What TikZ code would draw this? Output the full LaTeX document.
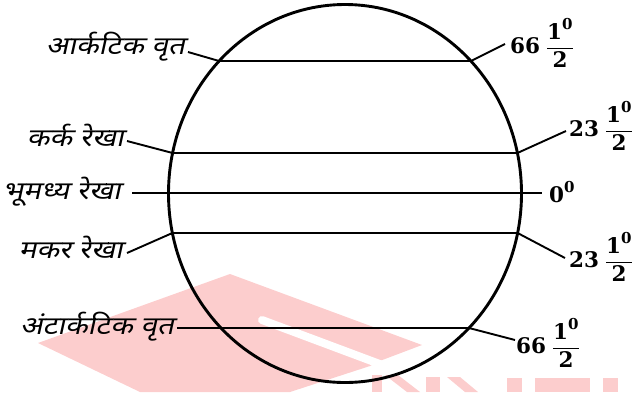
\documentclass[tikz,border=0pt]{standalone}
\usepackage{amsmath}
\usepackage{fontspec}
\newfontfamily\hindi[Script=Devanagari,FakeStretch=1.18,FakeSlant=0.22]{Noto Sans}
\newfontfamily\numfont{DejaVu Serif}
\newcommand\nb[1]{\text{\numfont\bfseries #1}}
\definecolor{wm}{RGB}{252,205,205}
\begin{document}
\begin{tikzpicture}[x=1pt,y=-1pt,
  globe/.style={line width=2.9pt},
  guide/.style={line width=2.1pt},
  lead/.style={line width=1.9pt},
  hlabel/.style={font=\hindi\fontsize{25}{28}\selectfont, inner sep=0pt},
  num/.style={font=\fontsize{21.5}{25}\selectfont, inner sep=0pt}]
\useasboundingbox (0,0) rectangle (638,392);
% watermark
\fill[wm] (38,343) -- (230,274) -- (422,345) -- (377,362) -- (370,366) -- (290,392) -- (140,392) -- cycle;
\draw[white, line width=8pt, line cap=round] (262,320) -- (385,366);
\fill[wm] (372,375) rectangle (382,392);
\fill[wm] (385,375) -- (398,375) -- (420,392) -- (407,392) -- cycle;
\fill[wm] (426,377) rectangle (440,392);
\fill[wm] (447,377) -- (460,377) -- (478,392) -- (465,392) -- cycle;
\fill[wm] (507,378) rectangle (522,392);
\fill[wm] (535,378) rectangle (590,392);
\fill[wm] (603,378) rectangle (618,392);
% globe
\draw[globe] (345,193.5) ellipse [x radius=176.5, y radius=189];
% intersection coordinates
\coordinate (arL) at (219.1,61);  \coordinate (arR) at (470.9,61);
\coordinate (caL) at (172.6,153); \coordinate (caR) at (517.4,153);
\coordinate (eqL) at (132,193);   \coordinate (eqR) at (542,193);
\coordinate (cpL) at (172.4,233); \coordinate (cpR) at (517.6,233);
\coordinate (anL) at (177,328);   \coordinate (anR) at (469,328);
% free leader ends
\coordinate (arLe) at (188,52);  \coordinate (arRe) at (505,44);
\coordinate (caLe) at (127,141); \coordinate (caRe) at (566,131);
\coordinate (cpLe) at (127,253); \coordinate (cpRe) at (565,258);
\coordinate (anRe) at (515,340);
% parallels
\draw[guide] (arL) -- (arR);
\draw[guide] (caL) -- (caR);
\draw[guide] (eqL) -- (eqR);
\draw[guide] (cpL) -- (cpR);
\draw[guide] (anL) -- (anR);
% leaders
\draw[lead] (arLe) -- (arL);
\draw[lead] (arR) -- (arRe);
\draw[lead] (caLe) -- (caL);
\draw[lead] (caR) -- (caRe);
\draw[lead] (cpLe) -- (cpL);
\draw[lead] (cpR) -- (cpRe);
\draw[lead] (anR) -- (anRe);
% left labels
\node[hlabel, anchor=base east] (tArc) at (185,54) {आर्कटिक वृत};
\node[hlabel, anchor=base east] (tCan) at (124,146) {कर्क रेखा};
\node[hlabel, anchor=base east] (tEq) at (121,199) {भूमध्य रेखा};
\node[hlabel, anchor=base east] (tCap) at (123,258) {मकर रेखा};
\node[hlabel, anchor=base east] (tAnt) at (174,334) {अंटार्कटिक वृत};
% right labels
\node[num, anchor=west] (nArc) at (510,43) {$\nb{66}\;\dfrac{\nb{1}^{\nb{0}}}{\nb{2}}$};
\node[num, anchor=west] (nCan) at (569,126) {$\nb{23}\;\dfrac{\nb{1}^{\nb{0}}}{\nb{2}}$};
\node[num, anchor=west] (nEq) at (549,192) {$\nb{0}^{\nb{0}}$};
\node[num, anchor=west] (nCap) at (569,257) {$\nb{23}\;\dfrac{\nb{1}^{\nb{0}}}{\nb{2}}$};
\node[num, anchor=west] (nAnt) at (516,343) {$\nb{66}\;\dfrac{\nb{1}^{\nb{0}}}{\nb{2}}$};
\end{tikzpicture}
\end{document}
